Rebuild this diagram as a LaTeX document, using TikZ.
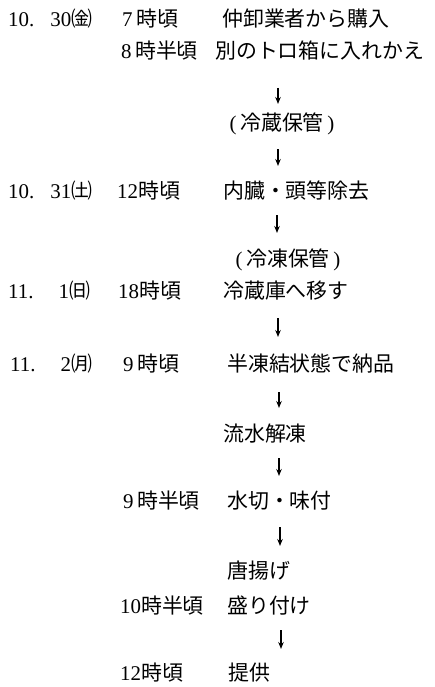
\documentclass[tikz,border=0pt]{standalone}
\usepackage{fontspec}
\setmainfont{Liberation Serif}
\newfontfamily\jp{Noto Sans CJK JP}
\usetikzlibrary{arrows.meta}
\begin{document}
\begin{tikzpicture}[x=1bp,y=-1bp,
  txt/.style={anchor=west,inner sep=0pt,font=\fontsize{21}{25}\selectfont},
  ctr/.style={anchor=center,inner sep=0pt,font=\fontsize{21}{25}\selectfont},
  arr/.style={line width=1.2bp,-{Stealth[length=7bp,width=5.5bp]}}]
\useasboundingbox[fill=white] (0,0) rectangle (435,687);
% row 1
\node[txt] (d1) at (8,19) {10.\hspace{16bp}30{\jp ㈮}};
\node[txt] (t1) at (122,19) {7\,{\jp 時頃}};
\node[txt] (s1) at (222,19) {\jp 仲卸業者から購入};
% row 2
\node[txt] (t2) at (121,51) {8\,{\jp 時半頃}};
\node[txt] (s2) at (215,51) {\jp 別のトロ箱に入れかえ};
\coordinate (a1s) at (278,88); \coordinate (a1e) at (278,104);
\draw[arr] (a1s) -- (a1e);
\node[ctr] (p1) at (282,124) {(\,{\jp 冷蔵保管}\,)};
\coordinate (a2s) at (278,149); \coordinate (a2e) at (278,166);
\draw[arr] (a2s) -- (a2e);
% row 3
\node[txt] (d3) at (8,191) {10.\hspace{16bp}31{\jp ㈯}};
\node[txt] (t3) at (117,191) {12{\jp 時頃}};
\node[txt] (s3) at (223,191) {\jp 内臓・頭等除去};
\coordinate (a3s) at (277,215); \coordinate (a3e) at (277,233);
\draw[arr] (a3s) -- (a3e);
\node[ctr] (p2) at (288,260) {(\,{\jp 冷凍保管}\,)};
% row 4
\node[txt] (d4) at (8,291) {11.\hspace{25bp}1{\jp ㈰}};
\node[txt] (t4) at (118,291) {18{\jp 時頃}};
\node[txt] (s4) at (223,291) {\jp 冷蔵庫へ移す};
\coordinate (a4s) at (278,318); \coordinate (a4e) at (278,337);
\draw[arr] (a4s) -- (a4e);
% row 5
\node[txt] (d5) at (10,364) {11.\hspace{25bp}2{\jp ㈪}};
\node[txt] (t5) at (123,364) {9\,{\jp 時頃}};
\node[txt] (s5) at (227,364) {\jp 半凍結状態で納品};
\coordinate (a5s) at (279,392); \coordinate (a5e) at (279,408);
\draw[arr] (a5s) -- (a5e);
\node[txt] (s6) at (223,434) {\jp 流水解凍};
\coordinate (a6s) at (279,458); \coordinate (a6e) at (279,476);
\draw[arr] (a6s) -- (a6e);
% row 6
\node[txt] (t7) at (123,501) {9\,{\jp 時半頃}};
\node[txt] (s7) at (227,501) {\jp 水切・味付};
\coordinate (a7s) at (280,527); \coordinate (a7e) at (280,546);
\draw[arr] (a7s) -- (a7e);
\node[txt] (s8) at (227,571) {\jp 唐揚げ};
% row 7
\node[txt] (t9) at (120,606) {10{\jp 時半頃}};
\node[txt] (s9) at (227,606) {\jp 盛り付け};
\coordinate (a8s) at (281,630); \coordinate (a8e) at (281,649);
\draw[arr] (a8s) -- (a8e);
% row 8
\node[txt] (t10) at (120,673) {12{\jp 時頃}};
\node[txt] (s10) at (228,673) {\jp 提供};
\end{tikzpicture}
\end{document}
